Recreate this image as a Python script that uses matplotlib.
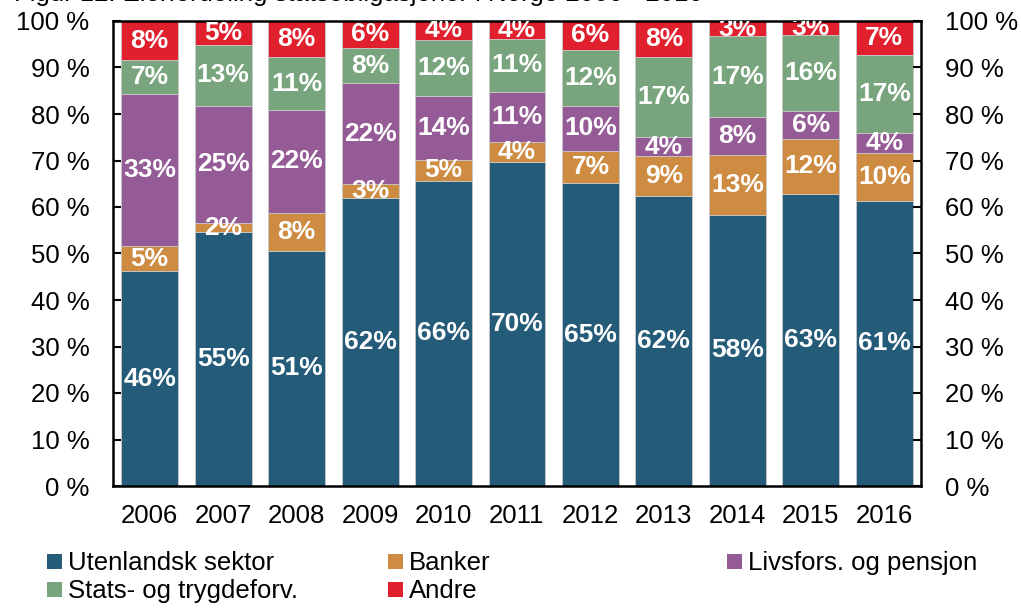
import matplotlib.pyplot as plt
from matplotlib.patches import Rectangle
import matplotlib.ticker as plticker

plt.rcParams['font.family'] = ['Liberation Sans', 'DejaVu Sans']

years = ['2006', '2007', '2008', '2009', '2010', '2011', '2012', '2013', '2014', '2015', '2016']

# andel i prosent, stablet nedenfra
utenlandsk = [46.2, 54.6, 50.6, 61.9, 65.6, 69.7, 65.1, 62.4, 58.3, 62.9, 61.3]
banker = [5.4, 1.9, 8.1, 3.1, 4.6, 4.3, 6.9, 8.6, 12.9, 11.8, 10.3]
livsfors = [32.8, 25.3, 22.2, 21.6, 13.7, 10.8, 9.8, 4.0, 8.1, 5.9, 4.3]
stats = [7.2, 13.0, 11.3, 7.6, 12.1, 11.3, 12.0, 17.3, 17.4, 16.3, 16.7]
andre = [8.4, 5.2, 7.8, 5.8, 4.0, 3.9, 6.2, 7.7, 3.3, 3.1, 7.4]

series = [utenlandsk, banker, livsfors, stats, andre]
names = ['Utenlandsk sektor', 'Banker', 'Livsfors. og pensjon',
         'Stats- og trygdeforv.', 'Andre']
colors = ['#245B78', '#CE8B42', '#955B96', '#78A57D', '#E0202D']

title = 'Figur 12: Eierfordeling statsobligasjoner i Norge 2006 - 2016'

W, H = 1021, 608
fig = plt.figure(figsize=(W / 100, H / 100), dpi=100)
ax = fig.add_axes([113 / W, 1 - 486 / H, 808 / W, 465 / H])

x = list(range(len(years)))
bottom = [0.0] * len(years)
for vals, col in zip(series, colors):
    ax.bar(x, vals, bottom=bottom, width=0.775, color=col,
           edgecolor='#c8c8c8', linewidth=0.6)
    for i, v in enumerate(vals):
        ax.text(i, bottom[i] + v / 2, '{:.0f}%'.format(v), ha='center', va='center',
                color='white', fontsize=19, fontweight='bold', clip_on=True)
    bottom = [b + v for b, v in zip(bottom, vals)]

ax.set_xlim(-0.5, len(years) - 0.5)
ax.set_ylim(0, 100)
ax.set_xticks(x)
ax.set_xticklabels(years)
ax.yaxis.set_major_locator(plticker.MultipleLocator(10))
ax.yaxis.set_major_formatter(plticker.FuncFormatter(lambda v, p: '{:.0f} %'.format(v)))
ax.tick_params(axis='y', direction='in', length=6, width=1.5, labelsize=18.5,
               left=True, right=True, labelleft=True, labelright=True, pad=17)
ax.tick_params(axis='x', length=0, labelsize=18.5, pad=13)
for s in ax.spines.values():
    s.set_linewidth(1.8)
    s.set_color('black')

# tittel, nesten helt utenfor bildet
fig.text(14 / W, 1 - 0.5 / H, title, fontsize=18.5, va='baseline', ha='left')

# forklaring: tre kolonner, to rader
leg_x = [47, 388, 727, 47, 388]
leg_y = [570, 570, 570, 598, 598]
for k, lx, ly in zip(range(len(names)), leg_x, leg_y):
    fig.add_artist(Rectangle((lx / W, 1 - (ly - 1) / H), 15 / W, 15 / H,
                             transform=fig.transFigure, facecolor=colors[k],
                             edgecolor='none'))
    fig.text((lx + 21) / W, 1 - ly / H, names[k], fontsize=18.5,
             va='baseline', ha='left')

fig.savefig('out.png', dpi=100)
